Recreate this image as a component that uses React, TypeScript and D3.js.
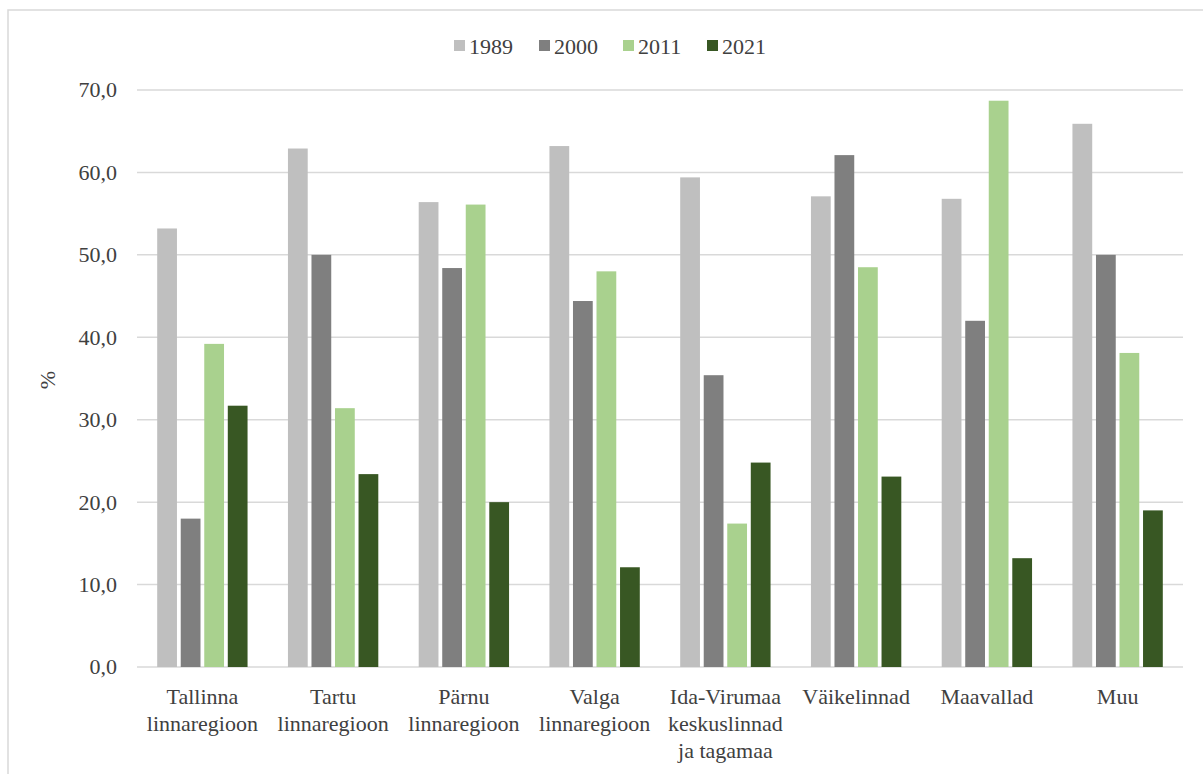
import React from "react";
import * as d3 from "d3";

const categories: string[][] = [
  ["Tallinna", "linnaregioon"],
  ["Tartu", "linnaregioon"],
  ["Pärnu", "linnaregioon"],
  ["Valga", "linnaregioon"],
  ["Ida-Virumaa", "keskuslinnad", "ja tagamaa"],
  ["Väikelinnad"],
  ["Maavallad"],
  ["Muu"],
];
const seriesNames = ["1989", "2000", "2011", "2021"];
const seriesColors = ["#bfbfbf", "#7f7f7f", "#a9d18e", "#385723"];
const v1989 = [53.2, 62.9, 56.4, 63.2, 59.4, 57.1, 56.8, 65.9];
const v2000 = [18.0, 50.0, 48.4, 44.4, 35.4, 62.1, 42.0, 50.0];
const v2011 = [39.2, 31.4, 56.1, 48.0, 17.4, 48.5, 68.7, 38.1];
const v2021 = [31.7, 23.4, 20.0, 12.1, 24.8, 23.1, 13.2, 19.0];
const seriesValues = [v1989, v2000, v2011, v2021];
const yTicks = [0, 10, 20, 30, 40, 50, 60, 70];

export default function App() {
  const W = 1203, H = 774;
  const left = 137, right = 1183, top = 90, bottom = 667;
  const x = d3.scaleBand<number>().domain(categories.map((_, i) => i)).range([left, right]).paddingInner(0.309).paddingOuter(0.1545);
  const xs = d3.scaleBand<number>().domain(seriesNames.map((_, i) => i)).range([0, x.bandwidth()]).paddingInner(0.16).paddingOuter(0);
  const y = d3.scaleLinear().domain([0, 70]).range([bottom, top]);
  const font = "Liberation Serif, Tinos, DejaVu Serif, serif";
  const ts = { fontFamily: font };
  const textColor = "#404040";
  const step = (right - left) / categories.length;
  const legendX = [454, 539, 623, 707];
  return (
    <svg width={W} height={H} style={{ position: "absolute", left: 0, top: 0 }}>
      <rect x={0} y={0} width={W} height={H} fill="#fff" />
      <rect x={8} y={10} width={W + 20} height={H + 20} fill="none" stroke="#d9d9d9" strokeWidth={1.5} />
      {yTicks.map((t) => (
        <g key={t}>
          <line x1={left} x2={right} y1={y(t)} y2={y(t)} stroke="#d9d9d9" strokeWidth={1.5} />
          <text x={117} y={y(t)} dy="0.34em" textAnchor="end" fontSize={22} fill={textColor} style={ts}>
            {t.toFixed(1).replace(".", ",")}
          </text>
        </g>
      ))}
      {seriesValues.map((vals, s) =>
        vals.map((v, i) => (
          <rect
            key={`${s}-${i}`}
            x={(x(i) as number) + (xs(s) as number)}
            y={y(v)}
            width={xs.bandwidth()}
            height={y(0) - y(v)}
            fill={seriesColors[s]}
          />
        ))
      )}
      {categories.map((lines, i) => (
        <text key={i} textAnchor="middle" fontSize={22} fill={textColor} style={ts}>
          {lines.map((l, j) => (
            <tspan key={j} x={left + step * (i + 0.5)} y={704 + j * 27}>{l}</tspan>
          ))}
        </text>
      ))}
      <text transform={`translate(55,380) rotate(-90)`} textAnchor="middle" fontSize={22} fill={textColor} style={ts}>%</text>
      {seriesNames.map((n, s) => (
        <g key={n}>
          <rect x={legendX[s]} y={40} width={11} height={11} fill={seriesColors[s]} />
          <text x={legendX[s] + 15} y={46} dy="0.35em" fontSize={22} fill={textColor} style={ts}>{n}</text>
        </g>
      ))}
    </svg>
  );
}
